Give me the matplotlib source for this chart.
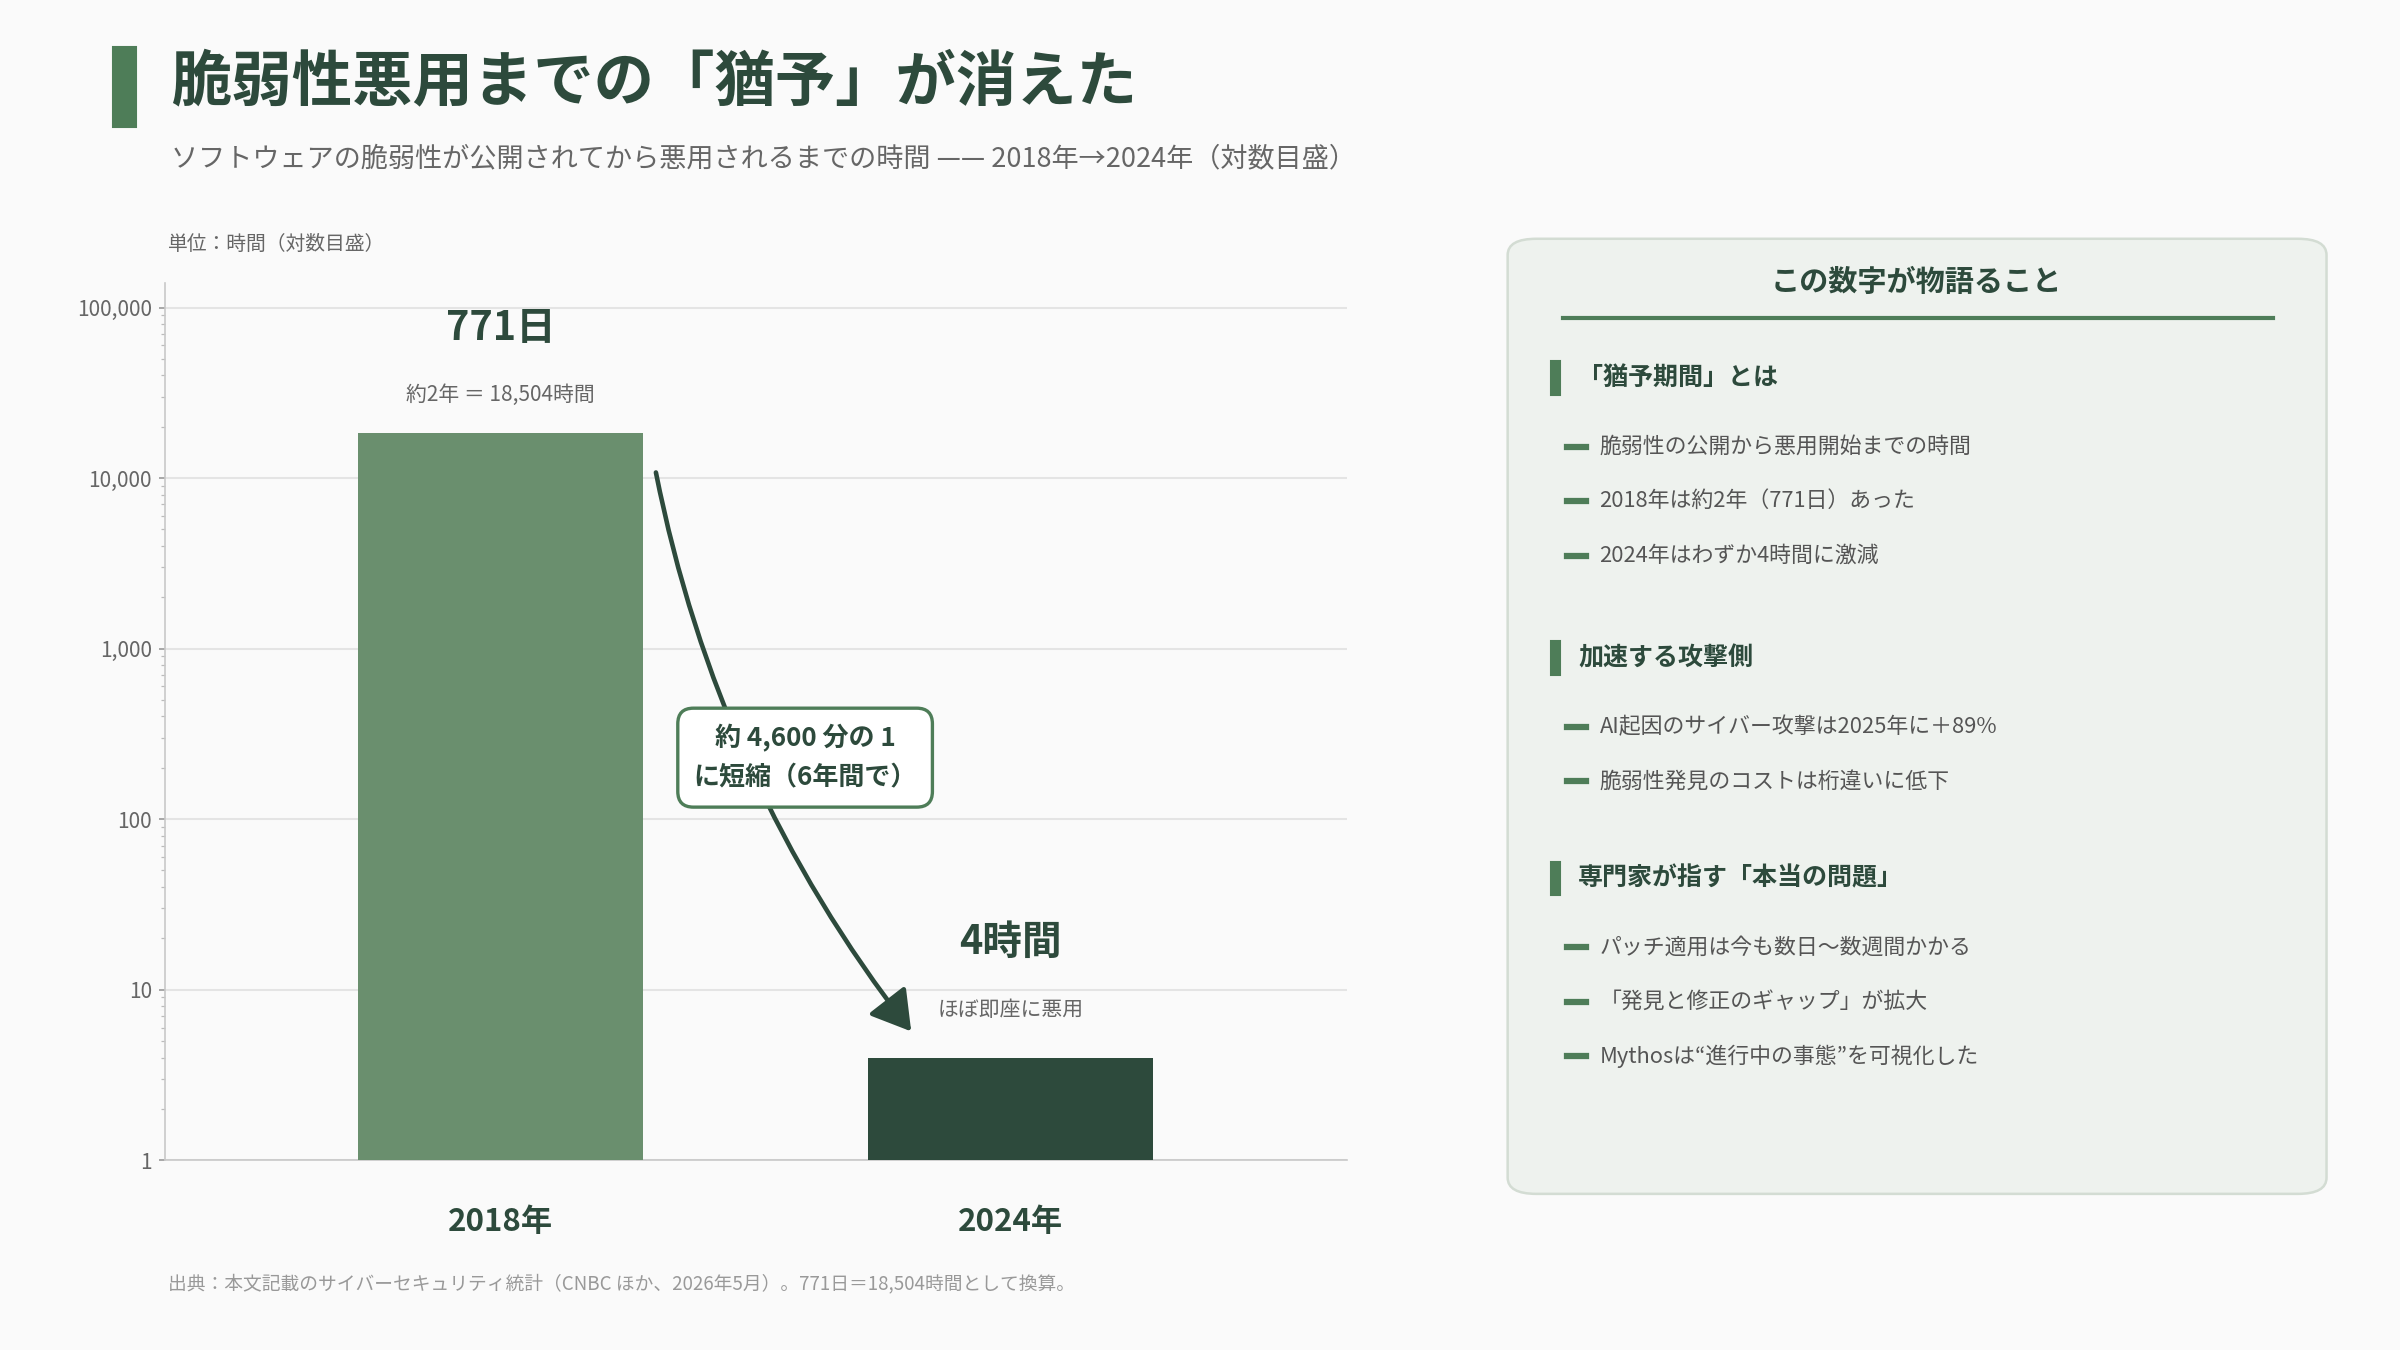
import matplotlib.pyplot as plt
from matplotlib.patches import FancyBboxPatch, Rectangle
from matplotlib.ticker import FixedLocator, LogLocator, NullFormatter

plt.rcParams['font.family'] = ['Noto Sans CJK JP', 'DejaVu Sans']

# data
years = ["2018年", "2024年"]
hours = [18504, 4]
bar_colors = ["#6a8f6e", "#2d4a3c"]
big_labels = ["771日", "4時間"]
sub_labels = ["約2年 ＝ 18,504時間", "ほぼ即座に悪用"]
yticks = [1, 10, 100, 1000, 10000, 100000]
ytick_labels = ["1", "10", "100", "1,000", "10,000", "100,000"]

sections = [
    ("「猶予期間」とは", ["脆弱性の公開から悪用開始までの時間",
                       "2018年は約2年（771日）あった",
                       "2024年はわずか4時間に激減"]),
    ("加速する攻撃側", ["AI起因のサイバー攻撃は2025年に＋89%",
                      "脆弱性発見のコストは桁違いに低下"]),
    ("専門家が指す「本当の問題」", ["パッチ適用は今も数日〜数週間かかる",
                               "「発見と修正のギャップ」が拡大",
                               "Mythosは“進行中の事態”を可視化した"]),
]

W, H = 1568, 882
def fx(x): return x / W
def fy(y): return 1 - y / H

dark = "#2d4a3c"
green = "#4e7d58"
grey = "#666666"

fig = plt.figure(figsize=(16, 9), dpi=150, facecolor="#fafafa")

# title
fig.patches.append(Rectangle((fx(74), fy(83)), fx(15), fy(31) - fy(83),
                             transform=fig.transFigure, color=green))
fig.text(fx(112), fy(54), "脆弱性悪用までの「猶予」が消えた", fontsize=29,
         fontweight="bold", color=dark, va="center")
fig.text(fx(112), fy(104), "ソフトウェアの脆弱性が公開されてから悪用されるまでの時間 —— 2018年→2024年（対数目盛）",
         fontsize=13, color=grey, va="center")
fig.text(fx(110), fy(160), "単位：時間（対数目盛）", fontsize=9.5, color=grey, va="center")

# chart
ax = fig.add_axes([fx(108), fy(758), fx(880) - fx(108), fy(185) - fy(758)])
ax.set_facecolor("#fafafa")
x = [0, 1]
ax.bar(x, hours, width=0.56, color=bar_colors, zorder=3)
ax.set_yscale("log")
ax.set_ylim(1, 139000)
ax.set_xlim(-0.658, 1.66)
ax.yaxis.set_major_locator(FixedLocator(yticks))
ax.set_yticklabels(ytick_labels, fontsize=10, color=grey)
ax.yaxis.set_minor_locator(LogLocator(subs=range(2, 10)))
ax.yaxis.set_minor_formatter(NullFormatter())
ax.tick_params(axis="y", which="major", length=3, color="#999999")
ax.tick_params(axis="y", which="minor", length=2, color="#bbbbbb")
ax.grid(axis="y", which="major", color="#e4e4e4", lw=1, zorder=0)
ax.set_xticks(x)
ax.set_xticklabels(years, fontsize=15, fontweight="bold", color=dark)
ax.tick_params(axis="x", length=0, pad=22)
for s in ["top", "right"]:
    ax.spines[s].set_visible(False)
for s in ["left", "bottom"]:
    ax.spines[s].set_color("#c8c8c8")

offsets = [(50, 18), (55, 23)]
for xi, v, bl, sl, (o1, o2) in zip(x, hours, big_labels, sub_labels, offsets):
    ax.annotate(bl, (xi, v), xytext=(0, o1), textcoords="offset points",
                ha="center", va="center", fontsize=19, fontweight="bold", color=dark)
    ax.annotate(sl, (xi, v), xytext=(0, o2), textcoords="offset points",
                ha="center", va="center", fontsize=10, color=grey)

# arrow
fig.add_artist(plt.matplotlib.patches.FancyArrowPatch(
    (fx(428), fy(306)), (fx(597), fy(676)), transform=fig.transFigure,
    connectionstyle="arc3,rad=0.12", arrowstyle="-|>,head_length=10,head_width=6",
    mutation_scale=1.6, color=dark, lw=2.2))
fig.text(fx(526), fy(495), "約 4,600 分の 1\nに短縮（6年間で）", fontsize=12.5,
         fontweight="bold", color=dark, ha="center", va="center", linespacing=1.6,
         bbox=dict(boxstyle="round,pad=0.6,rounding_size=0.6", fc="white", ec=green, lw=1.6))

# right panel
fig.patches.append(FancyBboxPatch((fx(985), fy(780)), fx(535), fy(156) - fy(780),
                                  boxstyle="round,pad=0,rounding_size=0.012",
                                  transform=fig.transFigure, fc="#eef2ee", ec="#d3dcd3", lw=1.2))
fig.text(fx(1252), fy(184), "この数字が物語ること", fontsize=14, fontweight="bold",
         color=dark, ha="center", va="center")
fig.add_artist(plt.Line2D([fx(1021), fx(1485)], [fy(208), fy(208)],
                          transform=fig.transFigure, color=green, lw=2))
heads_y = [247, 430, 574]
for (head, items), hy in zip(sections, heads_y):
    fig.patches.append(Rectangle((fx(1013), fy(hy + 11)), fx(6), fy(hy - 11) - fy(hy + 11),
                                 transform=fig.transFigure, color=green))
    fig.text(fx(1031), fy(hy), head, fontsize=12, fontweight="bold", color=dark, va="center")
    for i, it in enumerate(items):
        iy = hy + 45 + i * 35.5
        fig.add_artist(plt.Line2D([fx(1024), fx(1036)], [fy(iy), fy(iy)],
                                  transform=fig.transFigure, color=green, lw=3))
        fig.text(fx(1045), fy(iy), it, fontsize=10.5, color="#555555", va="center")

fig.text(fx(110), fy(839), "出典：本文記載のサイバーセキュリティ統計（CNBC ほか、2026年5月）。771日＝18,504時間として換算。",
         fontsize=9, color="#999999", va="center")

fig.savefig("out.png", dpi=150, facecolor=fig.get_facecolor())
